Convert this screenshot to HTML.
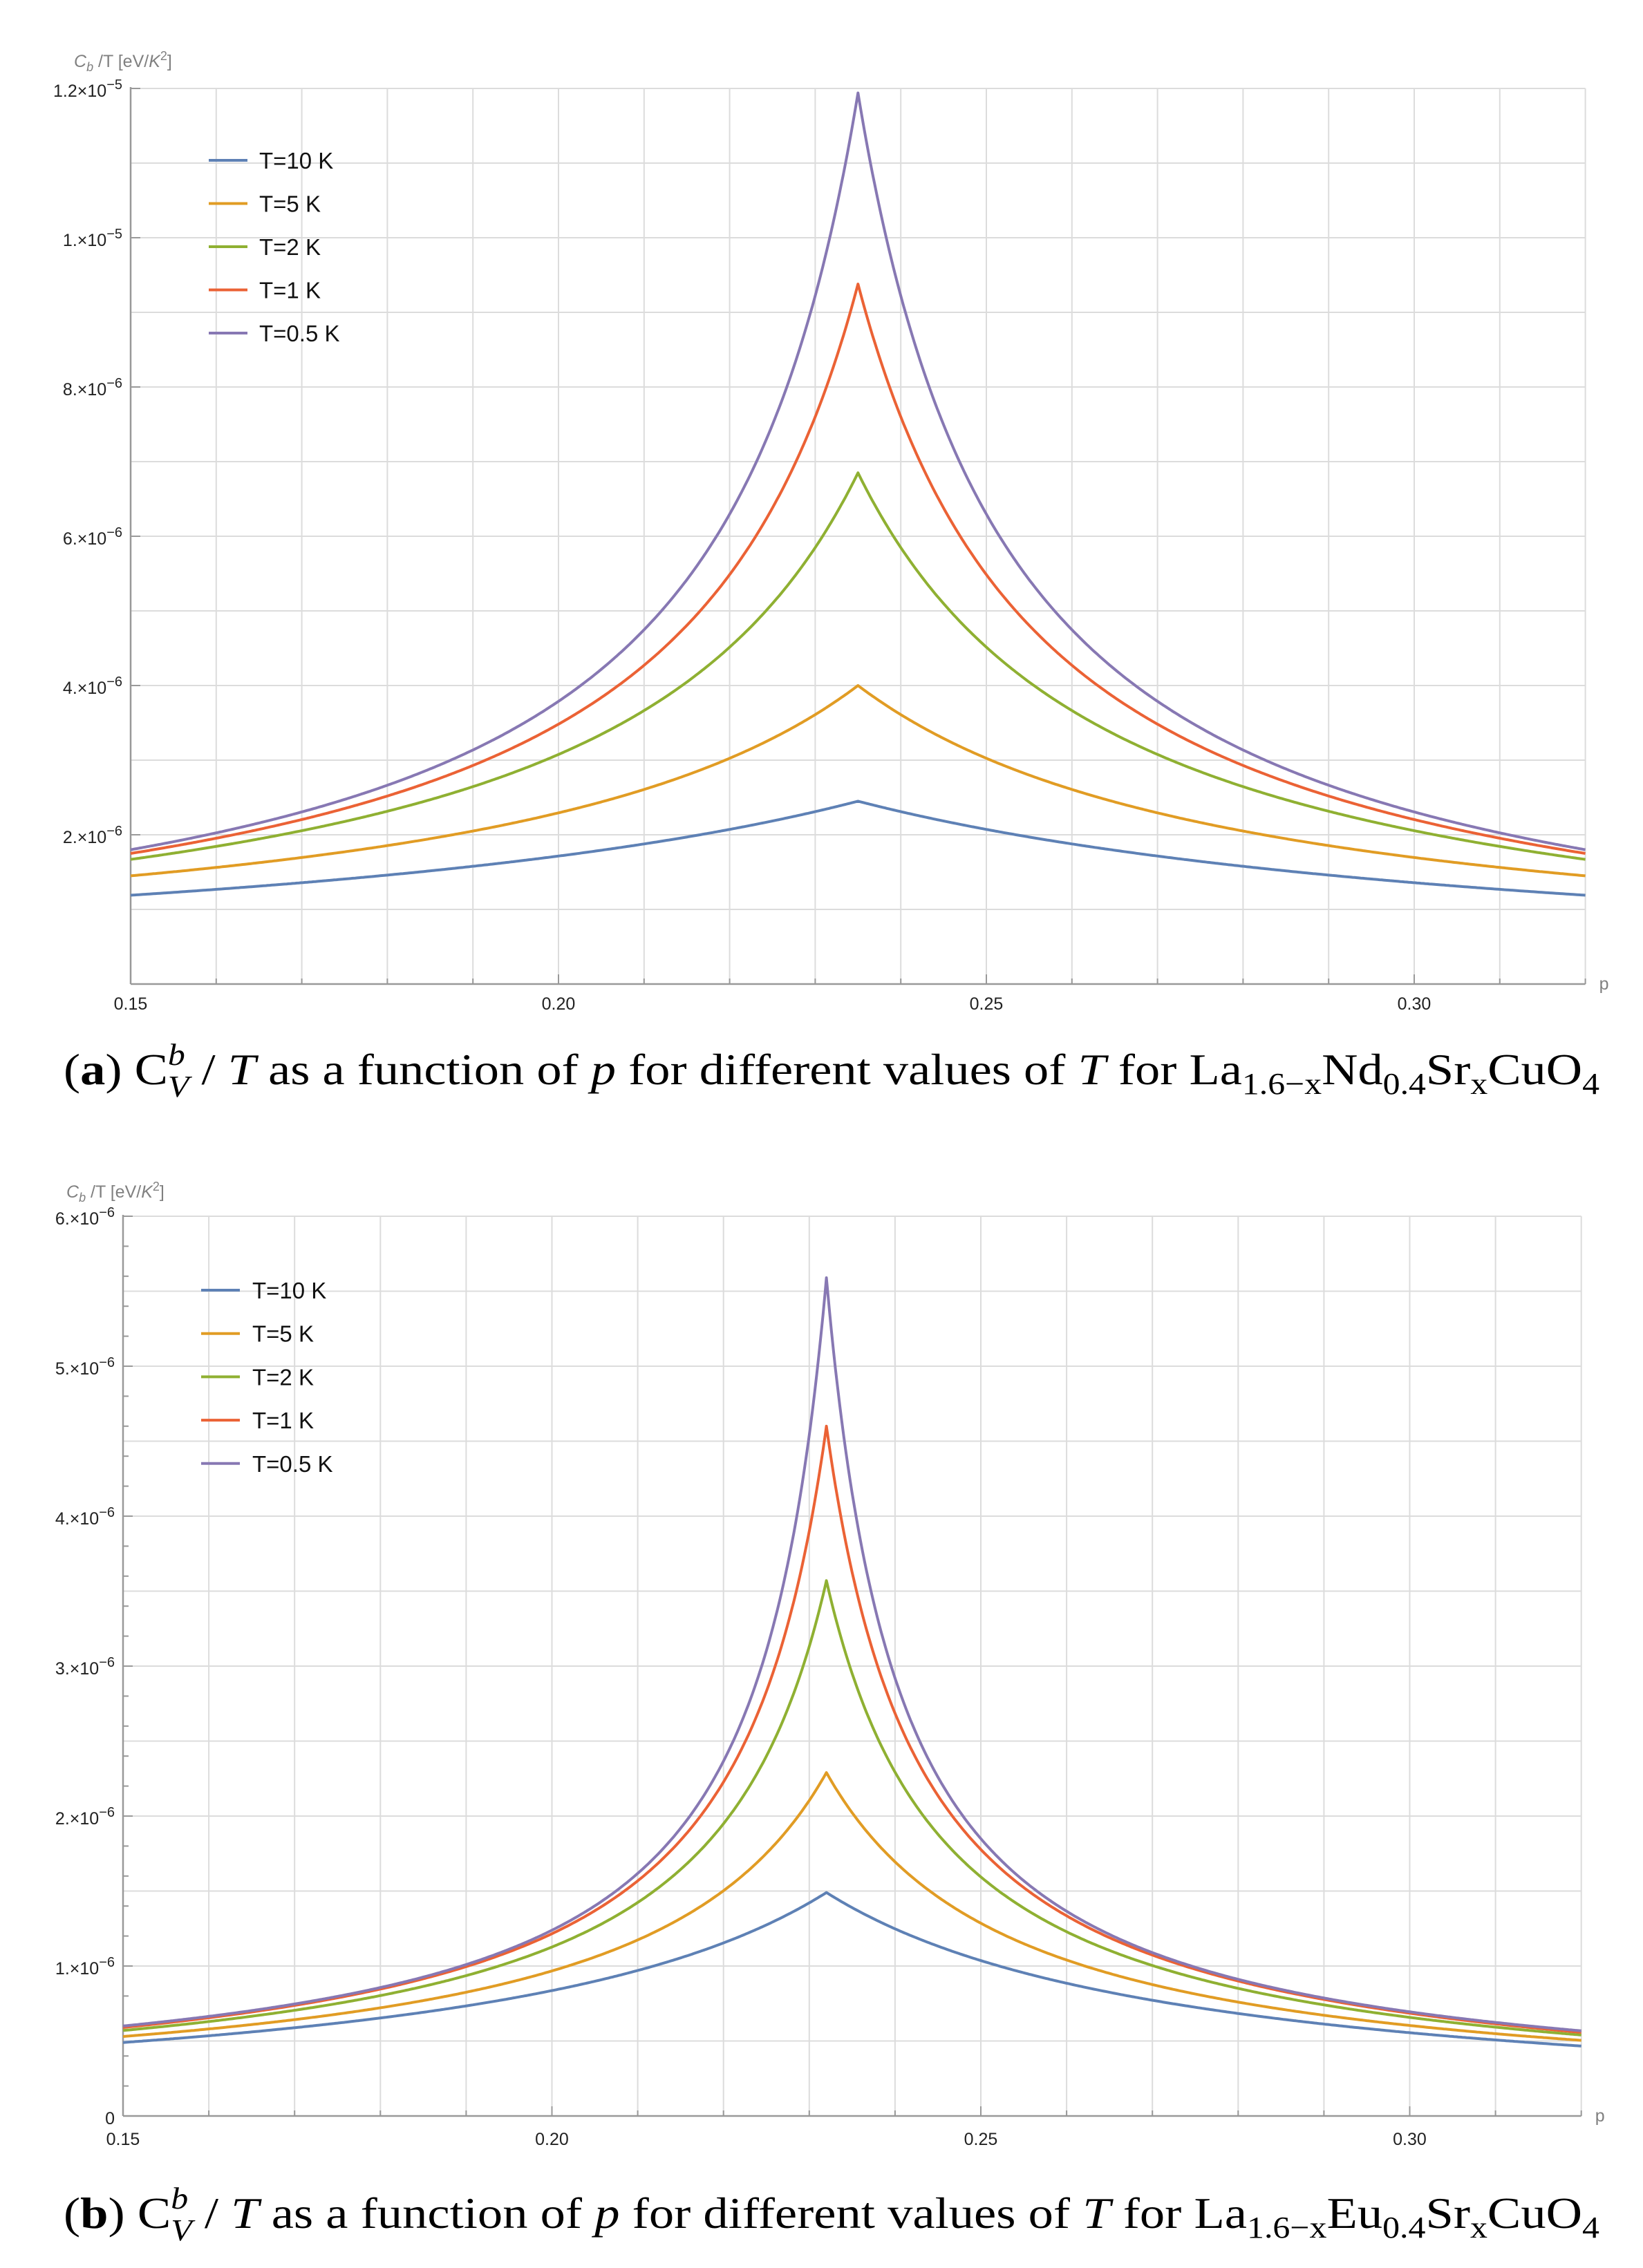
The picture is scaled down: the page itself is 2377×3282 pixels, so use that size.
<!DOCTYPE html>
<html><head><meta charset="utf-8"><style>
html,body{margin:0;padding:0;background:#fff;}
svg{display:block;}
.tl{font-family:"Liberation Sans",sans-serif;font-size:25px;fill:#222;}
.lg{font-family:"Liberation Sans",sans-serif;font-size:33px;fill:#111;}
.yl{font-family:"Liberation Sans",sans-serif;font-size:25px;fill:#808080;}
.cap{font-family:"Liberation Serif",serif;font-size:64px;fill:#000;}
</style></head><body>
<svg id="s" width="2377" height="3282" viewBox="0 0 2377 3282" xmlns="http://www.w3.org/2000/svg">
<rect width="2377" height="3282" fill="#fff"/>
<g id="g"></g>
<!-- y labels -->
<text class="yl" x="107" y="97"><tspan font-style="italic">C</tspan><tspan font-style="italic" font-size="18" dy="6">b</tspan><tspan dy="-6"> /T [eV/</tspan><tspan font-style="italic">K</tspan><tspan font-size="18" dy="-10">2</tspan><tspan dy="10">]</tspan></text>
<text class="yl" x="96" y="1733"><tspan font-style="italic">C</tspan><tspan font-style="italic" font-size="18" dy="6">b</tspan><tspan dy="-6"> /T [eV/</tspan><tspan font-style="italic">K</tspan><tspan font-size="18" dy="-10">2</tspan><tspan dy="10">]</tspan></text>
<!-- captions -->
<text class="cap" x="92" y="1569" textLength="2222" lengthAdjust="spacingAndGlyphs">(<tspan font-weight="bold">a</tspan>)  C<tspan font-style="italic" font-size="44" dy="-28">b</tspan><tspan font-style="italic" font-size="44" dx="-22" dy="46">V</tspan><tspan dy="-18"> / </tspan><tspan font-style="italic">T</tspan> as a function of <tspan font-style="italic">p</tspan> for different values of <tspan font-style="italic">T</tspan> for La<tspan font-size="44" dy="14">1.6−x</tspan><tspan dy="-14">Nd</tspan><tspan font-size="44" dy="14">0.4</tspan><tspan dy="-14">Sr</tspan><tspan font-size="44" dy="14">x</tspan><tspan dy="-14">CuO</tspan><tspan font-size="44" dy="14">4</tspan></text>
<text class="cap" x="92" y="3224" textLength="2222" lengthAdjust="spacingAndGlyphs">(<tspan font-weight="bold">b</tspan>)  C<tspan font-style="italic" font-size="44" dy="-28">b</tspan><tspan font-style="italic" font-size="44" dx="-22" dy="46">V</tspan><tspan dy="-18"> / </tspan><tspan font-style="italic">T</tspan> as a function of <tspan font-style="italic">p</tspan> for different values of <tspan font-style="italic">T</tspan> for La<tspan font-size="44" dy="14">1.6−x</tspan><tspan dy="-14">Eu</tspan><tspan font-size="44" dy="14">0.4</tspan><tspan dy="-14">Sr</tspan><tspan font-size="44" dy="14">x</tspan><tspan dy="-14">CuO</tspan><tspan font-size="44" dy="14">4</tspan></text>
</svg>
<script>
(function(){
var NS="http://www.w3.org/2000/svg",G=document.getElementById('g');
function el(t,a,txt){var e=document.createElementNS(NS,t);for(var k in a)e.setAttribute(k,a[k]);if(txt!==undefined)e.textContent=txt;G.appendChild(e);return e;}
var cols=["#5E81B5","#E19C24","#8FB032","#EB6235","#8778B3"],names=["T=10 K","T=5 K","T=2 K","T=1 K","T=0.5 K"];
function plot(o){
 var X=function(p){return o.x0+(p-0.15)*o.xs;},Y=function(v){return o.y0-v*o.ys;};
 var xr=X(0.32),yt=Y(o.ymax);
 // vertical grid
 for(var i=1;i<=17;i++){var p=0.15+i*0.01,x=X(p);el('line',{x1:x,y1:yt,x2:x,y2:o.y0,stroke:'#dcdcdc','stroke-width':2});}
 // horizontal grid
 for(var v=o.gstep;v<=o.ymax+1e-9;v+=o.gstep){el('line',{x1:o.x0,y1:Y(v),x2:xr,y2:Y(v),stroke:'#dcdcdc','stroke-width':2});}
 // axes
 el('line',{x1:o.x0,y1:yt-2,x2:o.x0,y2:o.y0,stroke:'#999','stroke-width':2.5});
 el('line',{x1:o.x0,y1:o.y0,x2:xr,y2:o.y0,stroke:'#999','stroke-width':2.5});
 for(var i=0;i<=17;i++){var x=X(0.15+i*0.01),L=(i%5==0)?14:8;el('line',{x1:x,y1:o.y0,x2:x,y2:o.y0-L,stroke:'#999','stroke-width':2});}
 for(var v=0;v<=o.ymax+1e-9;v+=o.mstep){var maj=Math.abs(v/o.lstep-Math.round(v/o.lstep))<1e-6;el('line',{x1:o.x0,y1:Y(v),x2:o.x0+(maj?14:8),y2:Y(v),stroke:'#999','stroke-width':2});}
 // x labels
 ["0.15","0.20","0.25","0.30"].forEach(function(s,k){el('text',{'class':'tl',x:X(0.15+k*0.05),y:o.xly,'text-anchor':'middle'},s);});
 el('text',{'class':'yl',x:xr+20,y:o.y0+8},'p');
 // y labels
 o.ylabs.forEach(function(l){var t=el('text',{'class':'tl',x:o.x0-12,y:Y(l[0])+12,'text-anchor':'end'});
  if(l[1]=='0'){t.textContent='0';return;}
  var a=document.createElementNS(NS,'tspan');a.textContent=l[1]+'\u00d710';t.appendChild(a);
  var b=document.createElementNS(NS,'tspan');b.setAttribute('dy','-11');b.setAttribute('font-size','20');b.textContent='\u2212'+l[2];t.appendChild(b);});
 // curves
 for(var c=0;c<5;c++){
  var P=o.P[c],E=o.E[c],d=o.d[c],L=o.pk-0.15;
  var cc=(P-E)/(1/d-1/(L+d)),aa=P-cc/d,pts=[];
  for(var j=0;j<=700;j++){var p=0.15+0.17*j/700;
   if(j>0&&(p-o.pk)*(0.15+0.17*(j-1)/700-o.pk)<0)pts.push(X(o.pk).toFixed(1)+','+Y(P).toFixed(1));
   var x=Math.abs(p-o.pk);pts.push(X(p).toFixed(1)+','+Y(aa+cc/(x+d)).toFixed(1));}
  el('polyline',{points:pts.join(' '),fill:'none',stroke:cols[c],'stroke-width':4,'stroke-linejoin':'round'});
 }
 // legend
 for(var c=0;c<5;c++){var y=o.lg[2]+c*o.lg[3];
  el('line',{x1:o.lg[0],y1:y,x2:o.lg[0]+56,y2:y,stroke:cols[c],'stroke-width':4});
  el('text',{'class':'lg',x:o.lg[1],y:y+12},names[c]);}
}
plot({x0:189,xs:12380,y0:1424,ys:108,ymax:12,gstep:1,mstep:2,lstep:2,xly:1461,pk:0.235,
 P:[2.45,4.0,6.85,9.38,11.94],E:[1.19,1.45,1.67,1.75,1.80],d:[0.085,0.045,0.03,0.022,0.0175],
 ylabs:[[2,'2.','6'],[4,'4.','6'],[6,'6.','6'],[8,'8.','6'],[10,'1.','5'],[12,'1.2','5']],
 lg:[302,375,232,62.5]});
plot({x0:178,xs:12410,y0:3062,ys:217,ymax:6,gstep:0.5,mstep:0.2,lstep:1,xly:3104,pk:0.232,
 P:[1.49,2.29,3.57,4.6,5.59],E:[0.49,0.53,0.57,0.59,0.60],d:[0.042,0.022,0.014,0.011,0.0085],
 ylabs:[[0,'0'],[1,'1.','6'],[2,'2.','6'],[3,'3.','6'],[4,'4.','6'],[5,'5.','6'],[6,'6.','6']],
 lg:[291,365,1867,62.7]});
})();
</script>
</body></html>
